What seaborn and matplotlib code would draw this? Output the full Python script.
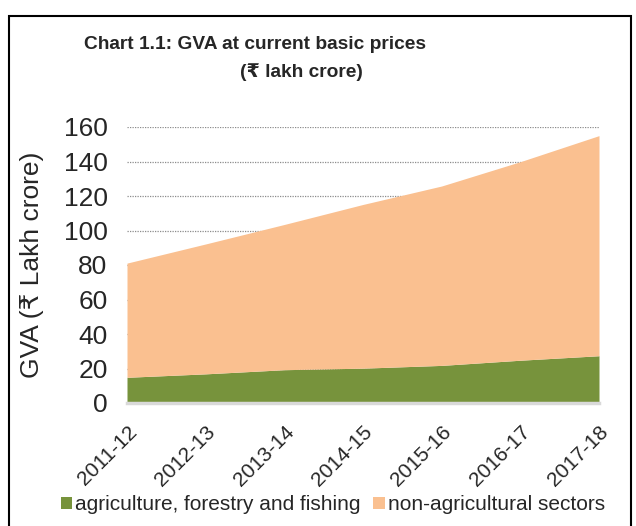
import matplotlib.pyplot as plt
from matplotlib.patches import Rectangle, Patch
import numpy as np
import pandas as pd
import seaborn as sns

# Values (Rs lakh crore)
years = ['2011-12', '2012-13', '2013-14', '2014-15', '2015-16', '2016-17', '2017-18']
total = [81.1, 92.2, 103.5, 115.1, 125.8, 139.9, 155.0]
agri = [14.9, 16.9, 19.3, 20.2, 21.8, 24.8, 27.4]
non_agri = [t - a for t, a in zip(total, agri)]

series_names = ['agriculture, forestry and fishing', 'non-agricultural sectors']
colors = ['#77933C', '#FAC090']

df = pd.DataFrame({'year': years, series_names[0]: agri, series_names[1]: non_agri})

sns.set_theme(style='white')
plt.rcParams['font.family'] = ['Liberation Sans', 'DejaVu Sans']

fig = plt.figure(figsize=(6.36, 5.26), dpi=100)
ax = fig.add_axes([127 / 636, 1 - 403 / 526, (599 - 127) / 636, (403 - 127) / 526])

x = np.arange(len(df))
ax.stackplot(x, df[series_names[0]], df[series_names[1]], colors=colors, linewidth=0, zorder=2)

ax.set_xlim(0, len(df) - 1)
ax.set_ylim(0, 160)
ax.set_yticks(range(0, 161, 20))
ax.set_xticks(x)
ax.set_xticklabels(df['year'], rotation=45, ha='right', rotation_mode='anchor', fontsize=15)
ax.tick_params(axis='y', labelsize=19, pad=14, length=0)
ax.tick_params(axis='x', pad=14, length=0)
ax.yaxis.grid(True, linestyle=(0, (1, 1)), color='#8c8c8c', linewidth=0.9, zorder=1)
ax.set_axisbelow(True)
for s in ['top', 'right', 'left']:
    ax.spines[s].set_visible(False)
ax.spines['bottom'].set_color('#d9d9d9')
ax.spines['bottom'].set_linewidth(2.5)
ax.spines['bottom'].set_zorder(3)

ax.set_ylabel('GVA (\u20b9 Lakh crore)', fontsize=19, labelpad=8)
ax.yaxis.set_label_coords(-0.175, 0.5)

fig.text(255 / 636, 1 - 44.5 / 526, 'Chart 1.1: GVA at current basic prices', ha='center', va='center',
         fontsize=13.8, fontweight='bold')
fig.text(301 / 636, 1 - 72 / 526, '(\u20b9 lakh crore)', ha='center', va='center',
         fontsize=13.8, fontweight='bold')

handles = [Patch(facecolor=c, edgecolor='none') for c in colors]
fig.legend(handles, series_names, loc='center', bbox_to_anchor=(333 / 636, 1 - 505 / 526), ncol=2,
           frameon=False, fontsize=15, handlelength=0.55, handleheight=0.55, handletextpad=0.15,
           columnspacing=0.6)

fig.patches.append(Rectangle((8.5 / 636, -0.02), 622 / 636, 1.02 - 16 / 526, transform=fig.transFigure,
                             fill=False, edgecolor='black', linewidth=1.5))

fig.savefig('out.png', dpi=100)
